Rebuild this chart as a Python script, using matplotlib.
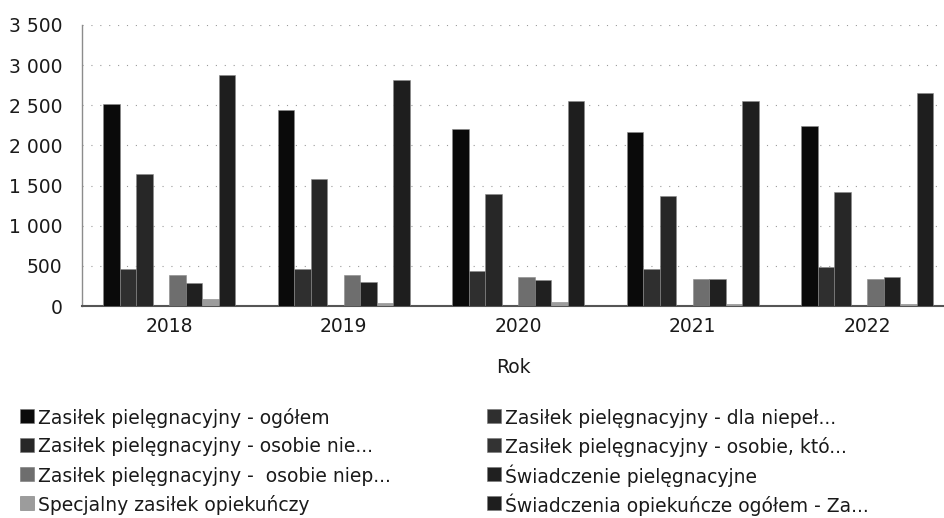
import matplotlib
matplotlib.use("Agg")
import matplotlib.pyplot as plt
from matplotlib.patches import Rectangle
from matplotlib.ticker import FuncFormatter, MultipleLocator
import numpy as np

plt.rcParams['font.family'] = ['DejaVu Sans']

years = ["2018", "2019", "2020", "2021", "2022"]

series_names = [
    "Zasiłek pielęgnacyjny - ogółem",
    "Zasiłek pielęgnacyjny - dla niepeł...",
    "Zasiłek pielęgnacyjny - osobie nie...",
    "Zasiłek pielęgnacyjny - osobie, któ...",
    "Zasiłek pielęgnacyjny -  osobie niep...",
    "Świadczenie pielęgnacyjne",
    "Specjalny zasiłek opiekuńczy",
    "Świadczenia opiekuńcze ogółem - Za...",
]

zp_ogolem = [2520, 2440, 2200, 2170, 2245]
zp_dla_niepel = [456, 456, 435, 456, 480]
zp_osobie_nie = [1650, 1580, 1390, 1370, 1415]
zp_osobie_kto = [0, 0, 0, 0, 0]
zp_osobie_niep = [386, 386, 361, 336, 336]
swiadczenie_piel = [290, 295, 320, 336, 361]
specjalny_zas = [83, 41, 46, 25, 25]
swiadczenia_ogolem = [2873, 2820, 2558, 2554, 2658]

values = [zp_ogolem, zp_dla_niepel, zp_osobie_nie, zp_osobie_kto,
          zp_osobie_niep, swiadczenie_piel, specjalny_zas, swiadczenia_ogolem]

colors = ["#0a0a0a", "#2f2f2f", "#272727", "#333333",
          "#6e6e6e", "#202020", "#9c9c9c", "#1e1e1e"]

W, H = 944, 518
fig = plt.figure(figsize=(W / 100, H / 100), dpi=100)
ax = fig.add_axes([82 / W, 1 - 306 / H, 1 - 82 / W, (306 - 25) / H])

x = np.arange(len(years))
n = len(values)
bw = 0.0946
for i, (vals, col) in enumerate(zip(values, colors)):
    offs = (i - (n - 1) / 2) * bw
    ax.bar(x + offs, vals, width=bw, color=col, edgecolor="#8a8a8a",
           linewidth=0.4, zorder=3)

ax.set_xlim(-0.5, 4.44)
ax.set_ylim(0, 3500)
ax.yaxis.set_major_locator(MultipleLocator(500))
ax.yaxis.set_major_formatter(FuncFormatter(lambda v, p: f"{int(v):,}".replace(",", " ")))
ax.set_xticks(x)
ax.set_xticklabels(years)

ax.grid(axis="y", color="#9a9a9a", linestyle=(0, (1, 7)), linewidth=0.8, zorder=0)
ax.grid(axis="x", visible=False)

for s in ["top", "right"]:
    ax.spines[s].set_visible(False)
ax.spines["left"].set_color("#8c8c8c")
ax.spines["left"].set_linewidth(1.0)
ax.spines["bottom"].set_color("#555555")
ax.spines["bottom"].set_linewidth(1.5)

ax.tick_params(axis="y", length=0, pad=14, labelsize=13.5, labelcolor="#1a1a1a")
ax.tick_params(axis="x", length=0, pad=8, labelsize=13.5, labelcolor="#1a1a1a")
ax.set_xlabel("Rok", fontsize=13.5, color="#1a1a1a", labelpad=16)

# Two-column legend, filled row by row, with evenly spaced rows
col_x = [20, 487]
row_y0, row_dy = 416, 29
box = 14
for k, (name, col) in enumerate(zip(series_names, colors)):
    r, c = divmod(k, 2)
    cx = col_x[c]
    cy = row_y0 + r * row_dy
    fig.patches.append(Rectangle((cx / W, 1 - (cy + box / 2) / H), box / W, box / H,
                                 transform=fig.transFigure, facecolor=col,
                                 edgecolor="#777777", linewidth=0.4))
    fig.text((cx + box + 4) / W, 1 - cy / H, name, fontsize=13.5, color="#1a1a1a",
             ha="left", va="center_baseline")

fig.savefig("out.png", dpi=100)
